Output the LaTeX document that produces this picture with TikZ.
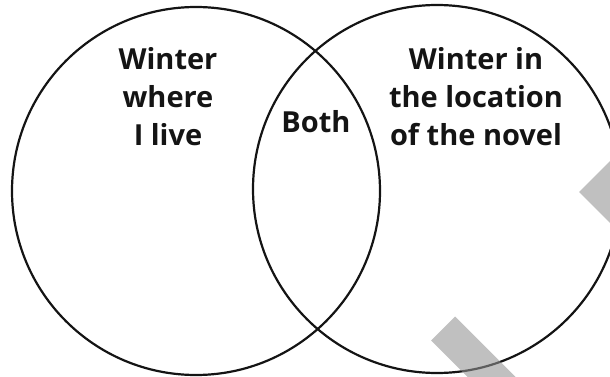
\documentclass[tikz,border=0pt]{standalone}
\usepackage{fontspec}
\setmainfont{Open Sans}
\usetikzlibrary{positioning}

\definecolor{ink}{HTML}{141414}
\definecolor{smudge}{HTML}{939393}

\begin{document}
\begin{tikzpicture}[x=1pt, y=-1pt]
        % Styles
        \tikzstyle{ring} = [circle, draw=ink, line width=2.2pt, minimum size=368pt, inner sep=0pt]
        \tikzstyle{area} = [text=ink, font=\bfseries\fontsize{29}{38}\selectfont, align=center, inner sep=0pt]
        \tikzstyle{smear} = [fill=smudge, fill opacity=0.58]

        \useasboundingbox (0,0) rectangle (610,377);

        % Circles
        \node [ring] (home) at (196,191) {};
        \node [ring] (novel) at (437,189) {};

        % Labels
        \node [area, anchor=north] (home_text) at (168,47) {Winter\\where\\I live};
        \node [area, anchor=north] (novel_text) at (476,47) {Winter in\\the location\\of the novel};
        \node [area, anchor=base] (both_text) at (316,132) {Both};

        % Grey marks
        \path [smear] (431,340.5) -- (455,316.5) -- (535,396.5) -- (511,420.5) -- cycle;
        \path [smear] (579,192) -- (624,147) -- (669,192) -- (624,237) -- cycle;
\end{tikzpicture}
\end{document}
